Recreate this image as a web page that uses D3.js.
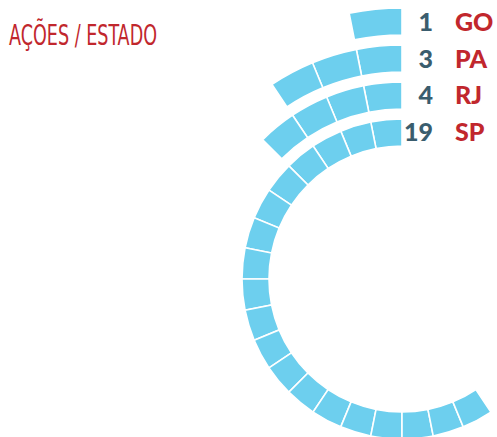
<!DOCTYPE html>
<html>
<head>
<meta charset="utf-8">
<script src="https://cdn.jsdelivr.net/npm/d3@7"></script>
<style>
  html, body { margin: 0; padding: 0; background: #fff; }
  svg { display: block; }
</style>
</head>
<body>
<div id="chart"></div>
<script>
  // rings from inside to outside
  var states = ['SP', 'RJ', 'PA', 'GO'];
  var counts = [19, 4, 3, 1];
  var unitsPerTurn = 32; // one block = 360/32 degrees

  var W = 497, H = 437;
  var cx = 402, cy = 279;

  var svg = d3.select('#chart').append('svg')
    .attr('width', W)
    .attr('height', H);

  var rScale = d3.scaleBand()
    .domain(states)
    .range([133, 271])
    .paddingInner(0.27)
    .paddingOuter(0);

  var angle = d3.scaleLinear()
    .domain([0, unitsPerTurn])
    .range([0, -2 * Math.PI]);

  var arc = d3.arc();

  var g = svg.append('g').attr('transform', 'translate(' + cx + ',' + cy + ')');

  states.forEach(function (st, si) {
    var blocks = d3.range(counts[si]);
    g.append('g').attr('class', 'ring')
      .selectAll('path')
      .data(blocks)
      .enter()
      .append('path')
      .attr('d', function (i) {
        return arc({
          innerRadius: rScale(st),
          outerRadius: rScale(st) + rScale.bandwidth(),
          startAngle: angle(i + 1),
          endAngle: angle(i)
        });
      })
      .attr('fill', '#6dcfee')
      .attr('stroke', '#fff')
      .attr('stroke-width', 1.6);

    var yMid = cy - (rScale(st) + rScale.bandwidth() / 2);

    svg.append('text')
      .attr('x', 433)
      .attr('y', yMid)
      .attr('dy', '0.36em')
      .attr('text-anchor', 'end')
      .style('font-family', 'Lato, "Open Sans", sans-serif')
      .style('font-weight', 900)
      .style('font-size', '25px')
      .attr('fill', '#3a5d6e')
      .text(counts[si]);

    svg.append('text')
      .attr('x', 455)
      .attr('y', yMid)
      .attr('dy', '0.36em')
      .style('font-family', 'Lato, "Open Sans", sans-serif')
      .style('font-weight', 900)
      .style('font-size', '25px')
      .attr('fill', '#c1272d')
      .text(st);
  });

  // title
  svg.append('text')
    .attr('x', 9)
    .attr('y', 45)
    .attr('textLength', 148)
    .attr('lengthAdjust', 'spacingAndGlyphs')
    .style('font-family', '"Liberation Sans Narrow", "DejaVu Sans Condensed", sans-serif')
    .style('font-size', '28px')
    .attr('fill', '#c1272d')
    .text('AÇÕES / ESTADO');
</script>
</body>
</html>
